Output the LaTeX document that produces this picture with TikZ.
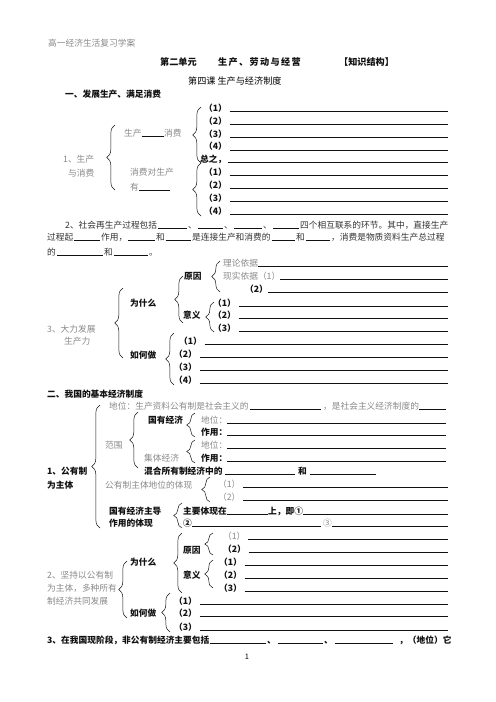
\documentclass[tikz,border=0pt]{standalone}
\usepackage{fontspec}
\setmainfont{Noto Sans CJK SC}
\usetikzlibrary{decorations.pathreplacing}
\definecolor{Ink}{HTML}{111111}
\definecolor{Body}{HTML}{333333}
\definecolor{Faded}{HTML}{8A8A8A}

\begin{document}
\begin{tikzpicture}[x=0.4234mm,y=-0.4234mm,
    lab/.style={anchor=west,inner sep=0pt,text height=0.8em,text depth=0pt,
      font=\fontsize{10.5}{12}\selectfont},
    gry/.style={lab,text=Faded},
    par/.style={lab,text=Body},
    bld/.style={lab,text=Ink,font=\fontsize{10.5}{12}\selectfont\bfseries},
    ttl/.style={bld,font=\fontsize{11}{13}\selectfont\bfseries},
    ln/.style={line width=0.8pt,Ink},
    brc/.style={decorate,decoration={brace,amplitude=10pt},line width=0.6pt,Ink}]
    \fill[white] (0,0) rectangle (496,702);
    \useasboundingbox (0,0) rectangle (496,702);
    \coordinate (R) at (448,0);
    \coordinate (R2) at (446,0);

    \node[gry] (hdr) at (48,42.7) {高一经济生活复习学案};
    \node[ttl] (unit) at (160,62.5) {第二单元};
    \node[ttl,font=\fontsize{11}{13}\selectfont\bfseries\addfontfeatures{LetterSpace=15}]
      (topic) at (218,62.5) {生产、劳动与经营};
    \node[ttl] (tag) at (339,62.5) {【知识结构】};
    \node[lab,font=\fontsize{11}{13}\selectfont] (lesson) at (188,81.5) {第四课 生产与经济制度};
    \node[bld] (sec1) at (65,94) {一、发展生产、满足消费};

    % 1. production and consumption
    \foreach \i/\y in {1/107.7,2/120.7,3/134,4/146.5}
      {
        \node[bld] (u\i) at (204,\y) {（\i）};
        \draw[ln] ([xshift=3pt]u\i.south east) -- (u\i.south -| R);
      }
    \node[bld] (sum) at (200,159.3) {总之，};
    \draw[ln] ([xshift=2pt]sum.south east) -- (sum.south -| R);
    \foreach \i/\y in {1/172.3,2/185.3,3/198.3,4/211}
      {
        \node[bld] (d\i) at (204,\y) {（\i）};
        \draw[ln] ([xshift=3pt]d\i.south east) -- (d\i.south -| R);
      }
    \draw[brc] (201,163) -- (201,107);
    \draw[brc] (201,216) -- (201,163);
    \draw[brc] (115,190) -- (115,125);
    \node[gry] (prod) at (124,133.3) {生产};
    \node[gry] (cons) at (164,133.3) {消费};
    \draw[ln] (prod.south east) -- (cons.south west);
    \node[gry] (pc1) at (63,159.3) {1、生产};
    \node[gry] (pc2) at (68,172.7) {与消费};
    \node[gry] (back) at (130,172.3) {消费对生产};
    \node[gry] (hav) at (130,187.3) {有};
    \coordinate (havE) at (170,0);
    \draw[ln] (hav.south east) -- (hav.south -| havE);

    % 2. reproduction paragraph
    \node[par] (g1) at (65,225) {2、社会再生产过程包括};
    \node[par] (g2) at (188,225) {、};
    \node[par] (g3) at (224,225) {、};
    \node[par] (g4) at (263,225) {、};
    \node[par] (g5) at (300,225) {四个相互联系的环节。其中，直接生产};
    \node[par] (h1) at (47,236.7) {过程起};
    \node[par] (h2) at (101,236.7) {作用，};
    \node[par] (h3) at (156,236.7) {和};
    \node[par] (h4) at (192,236.7) {是连接生产和消费的};
    \node[par] (h5) at (296,236.7) {和};
    \node[par] (h6) at (331,236.7) {，消费是物质资料生产总过程};
    \node[par] (k1) at (47,251.7) {的};
    \node[par] (k2) at (104,251.7) {和};
    \node[par] (k3) at (149,251.7) {。};
    \foreach \a/\b in {g1/g2,g2/g3,g3/g4,g4/g5,h1/h2,h2/h3,h3/h4,h4/h5,h5/h6,k1/k2,k2/k3}
      \draw[ln] ([xshift=1pt]\a.south east) -- ([xshift=-1pt]\b.south west);

    % 3. productive forces
    \node[gry] (thy) at (223,262.7) {理论依据};
    \node[gry] (rl1) at (223,275.7) {现实依据（1）};
    \node[bld] (rl2) at (245,289) {（2）};
    \foreach \n in {thy,rl1,rl2}
      \draw[ln] (\n.south east) -- (\n.south -| R);
    \node[bld] (rsn) at (184,275.7) {原因};
    \node[bld] (why) at (130,302.7) {为什么};
    \node[bld] (sig) at (183,315) {意义};
    \foreach \i/\y in {1/302.7,2/315,3/328.3}
      {
        \node[bld] (m\i) at (213,\y) {（\i）};
        \draw[ln] ([xshift=3pt]m\i.south east) -- (m\i.south -| R);
      }
    \node[gry] (dv1) at (47,329) {3、大力发展};
    \node[gry] (dv2) at (64,341) {生产力};
    \node[bld] (how) at (130,355) {如何做};
    \foreach \i/\x/\y in {1/179/341,2/174/354.3,3/174/367.3,4/174/380}
      {
        \node[bld] (w\i) at (\x,\y) {（\i）};
        \draw[ln] ([xshift=3pt]w\i.south east) -- (w\i.south -| R);
      }
    \draw[brc] (220,292) -- (220,261);
    \draw[brc] (183,323) -- (183,276);
    \draw[brc] (214,332) -- (214,302);
    \draw[brc] (123,358) -- (123,288);
    \draw[brc] (174,385) -- (174,333);

    % basic economic system
    \node[bld] (sec2) at (47,394) {二、我国的基本经济制度};
    \draw[brc] (100,528) -- (100,405);
    \node[bld] (pub1) at (47,470.7) {1、公有制};
    \node[bld] (pub2) at (47,485) {为主体};
    \node[gry] (pos) at (109,406) {地位：生产资料公有制是社会主义的};
    \node[gry] (pos2) at (323,406) {，是社会主义经济制度的};
    \draw[ln] ([xshift=1pt]pos.south east) -- ([xshift=-2pt]pos2.south west);
    \draw[ln] (pos2.south east) -- (pos2.south -| R2);
    \node[gry] (scp) at (105,445) {范围};
    \draw[brc] (138,468) -- (138,412);
    \node[bld] (soe) at (148,420) {国有经济};
    \draw[brc] (195,437) -- (195,413);
    \node[gry] (col) at (144,457.7) {集体经济};
    \draw[brc] (195,463) -- (195,440);
    \node[gry] (sp1) at (201,420) {地位：};
    \node[bld] (sf1) at (201,432) {作用：};
    \node[gry] (sp2) at (201,445) {地位：};
    \node[bld] (sf2) at (201,457.7) {作用：};
    \foreach \n in {sp1,sf1,sp2,sf2}
      \draw[ln] (\n.south east) -- (\n.south -| R2);
    \node[bld] (mix) at (144,470.7) {混合所有制经济中的};
    \node[bld] (mixand) at (298,470.7) {和};
    \coordinate (mixE) at (376,0);
    \draw[ln] ([xshift=3pt]mix.south east) -- ([xshift=-4pt]mixand.south west);
    \draw[ln] ([xshift=4pt]mixand.south east) -- (mixand.south -| mixE);
    \node[gry] (emb) at (105,485) {公有制主体地位的体现};
    \draw[brc] (210,502) -- (210,477);
    \node[gry] (e1) at (218,484) {（1）};
    \node[gry] (e2) at (218,496.7) {（2）};
    \foreach \n in {e1,e2}
      \draw[ln] ([xshift=3pt]\n.south east) -- (\n.south -| R);
    \node[bld] (lead1) at (109,510.7) {国有经济主导};
    \node[bld] (lead2) at (109,523.3) {作用的体现};
    \draw[brc] (182,528) -- (182,503);
    \node[bld] (main) at (183,510.7) {主要体现在};
    \node[bld] (on) at (268,510.7) {上，即①};
    \node[bld] (cc2) at (183,523.3) {②};
    \node[gry] (cc3) at (323,523.3) {③};
    \draw[ln] (main.south east) -- (on.south west);
    \draw[ln] (on.south east) -- (on.south -| R);
    \draw[ln] (cc2.south east) -- ([xshift=-3pt]cc3.south west);
    \draw[ln] (cc3.south east) -- (cc3.south -| R);

    % 2. keep public ownership as main body
    \node[bld] (why2) at (130,561.7) {为什么};
    \node[bld] (rsn2) at (183,550) {原因};
    \draw[brc] (213,555) -- (213,533);
    \node[gry] (r1) at (223,536) {（1）};
    \node[bld] (r2) at (223,549.3) {（2）};
    \foreach \n in {r1,r2}
      \draw[ln] ([xshift=3pt]\n.south east) -- (\n.south -| R);
    \draw[brc] (182,593) -- (182,533);
    \node[bld] (sig2) at (183,575) {意义};
    \draw[brc] (213,588) -- (213,560);
    \foreach \i/\y in {1/561.7,2/575,3/588.3}
      {
        \node[bld] (s\i) at (219,\y) {（\i）};
        \draw[ln] ([xshift=3pt]s\i.south east) -- (s\i.south -| R);
      }
    \draw[brc] (127,618) -- (127,561);
    \node[gry] (ph1) at (47,575) {2、坚持以公有制};
    \node[gry] (ph2) at (47,588.3) {为主体，多种所有};
    \node[gry] (ph3) at (47,601) {制经济共同发展};
    \node[bld] (how2) at (130,613.3) {如何做};
    \draw[brc] (170,632) -- (170,593);
    \foreach \i/\y in {1/601,2/613.3,3/626.7}
      {
        \node[bld] (t\i) at (174,\y) {（\i）};
        \draw[ln] ([xshift=3pt]t\i.south east) -- (t\i.south -| R);
      }

    \node[bld] (non) at (47,640) {3、在我国现阶段，非公有制经济主要包括};
    \node[bld] (nc1) at (267,640) {、};
    \node[bld] (nc2) at (324,640) {、};
    \coordinate (nE) at (393,0);
    \node[bld] (rank) at (399,640) {，（地位）它};
    \draw[ln] (non.south east) -- ([xshift=-1pt]nc1.south west);
    \draw[ln] ([xshift=2pt]nc1.south east) -- ([xshift=-1pt]nc2.south west);
    \draw[ln] ([xshift=2pt]nc2.south east) -- (nc2.south -| nE);
    \node[lab,anchor=center,font=\fontsize{9}{10}\selectfont] (pg) at (247,655.7) {1};
  \end{tikzpicture}
\end{document}
